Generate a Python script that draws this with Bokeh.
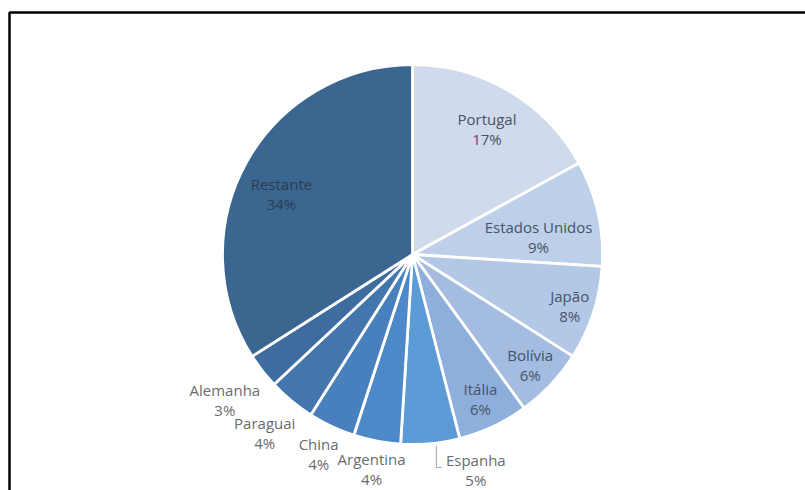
import math
from bokeh.plotting import figure
from bokeh.models import Range1d
from bokeh.core.properties import value
from bokeh.embed import file_html
from bokeh.resources import INLINE

# ---- data ----
countries = ["Portugal", "Estados Unidos", "Japão", "Bolívia", "Itália", "Espanha",
             "Argentina", "China", "Paraguai", "Alemanha", "Restante"]
shares = [17, 9, 8, 6, 6, 5, 4, 4, 4, 3, 34]
pct_labels = ["17%", "9%", "8%", "6%", "6%", "5%", "4%", "4%", "4%", "3%", "34%"]

# ---- styles / label placement ----
colors = ["#CFDAED", "#BDCFE9", "#B3C7E6", "#A3BCE0", "#8EAFDC", "#5D9BD6",
          "#4D89C9", "#4880BE", "#4476AE", "#3F6C9F", "#3B6690"]
label_r = [0.77, 0.67, 0.87, 0.85, 0.84, 1.18, 1.15, 1.16, 1.22, 1.25, 0.76]
label_da = [0, -4.5, 0, 0, 0, 11, 0, 0, 0, 0, 4]
inside = [True, True, True, True, True, False, False, False, False, False, True]

W, H = 805, 490
cx, cy, R = 412, H - 254, 190

p = figure(width=W, height=H, output_backend="svg", toolbar_location=None,
           x_range=Range1d(0, W), y_range=Range1d(0, H), min_border=0,
           outline_line_color=None, background_fill_color="white")
p.axis.visible = False
p.grid.visible = False

total = float(sum(shares))
starts, ends, mids = [], [], []
cum = 0.0
for s in shares:
    a0 = math.pi / 2 - 2 * math.pi * cum / total
    cum += s
    a1 = math.pi / 2 - 2 * math.pi * cum / total
    starts.append(a0)
    ends.append(a1)
    mids.append((a0 + a1) / 2)

p.wedge(x=cx, y=cy, radius=R, start_angle=starts, end_angle=ends, direction="clock",
        fill_color=colors, line_color="white", line_width=2.8)

font = value("Open Sans")
for i, name in enumerate(countries):
    a = mids[i] + math.radians(label_da[i])
    lx = cx + label_r[i] * R * math.cos(a)
    ly = cy + label_r[i] * R * math.sin(a)
    col = "#44546a" if inside[i] else "#6b6b6b"
    if name == "Restante":
        col = "#2a3c52"
    p.text(x=[lx], y=[ly + 10], text=[name], text_align="center", text_baseline="middle",
           text_font=font, text_font_size="15px", text_color=col)
    p.text(x=[lx], y=[ly - 10], text=[pct_labels[i]], text_align="center",
           text_baseline="middle", text_font=font, text_font_size="15px", text_color=col)
    if name == "Espanha":
        ex = cx + R * math.cos(mids[i]) + 6
        ey = cy + R * math.sin(mids[i]) - 2
        p.line(x=[ex, ex, lx - 34], y=[ey, ly + 2, ly + 2], line_color="#a6a6a6", line_width=1)

# outer frame (left and top edges visible in the crop)
p.line(x=[9, 9, W], y=[0, H - 12, H - 12], line_color="black", line_width=2.5)

open("out.html", "w").write(file_html(p, INLINE))
